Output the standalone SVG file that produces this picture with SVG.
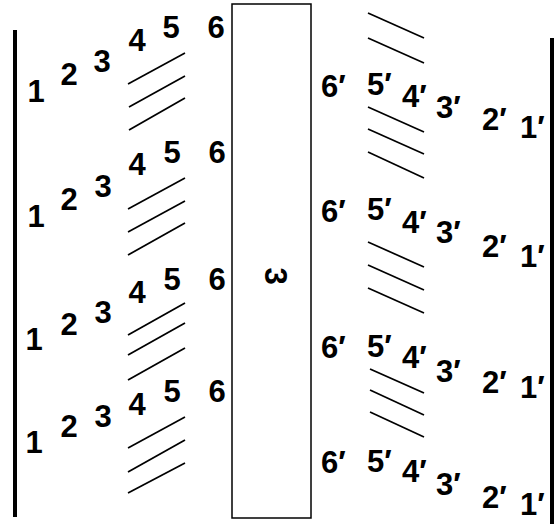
<svg xmlns="http://www.w3.org/2000/svg" width="554" height="524" viewBox="0 0 554 524">
<style>
text{font-family:"Liberation Sans",Arial,sans-serif;font-weight:bold;font-size:31px;fill:#000}
.c{text-anchor:middle}
.h{stroke:#000;stroke-width:1.7;fill:none}
.bar{fill:#000}
</style>
<rect width="554" height="524" fill="#fff"/>
<g id="walls">
<rect class="bar" x="13" y="30" width="4" height="487"/>
<rect class="bar" x="550" y="38" width="4" height="486"/>
</g>
<g id="block">
<rect x="232" y="4" width="79" height="514" fill="none" stroke="#000" stroke-width="1.5"/>
<text class="c" transform="translate(265,276) rotate(90)" font-size="31">3</text>
</g>
<g id="left-row1">
<text class="c" x="36" y="102">1</text><text class="c" x="69" y="85">2</text><text class="c" x="102" y="72">3</text>
<text class="c" x="137" y="51">4</text><text class="c" x="171" y="38">5</text><text class="c" x="216" y="38">6</text>
</g>
<g id="left-row2">
<text class="c" x="36" y="227">1</text><text class="c" x="69" y="210">2</text><text class="c" x="103" y="197">3</text>
<text class="c" x="137" y="175">4</text><text class="c" x="172" y="163">5</text><text class="c" x="217" y="163">6</text>
</g>
<g id="left-row3">
<text class="c" x="34" y="350">1</text><text class="c" x="69" y="335">2</text><text class="c" x="103" y="323">3</text>
<text class="c" x="137" y="303">4</text><text class="c" x="172" y="290">5</text><text class="c" x="217" y="290">6</text>
</g>
<g id="left-row4">
<text class="c" x="34" y="453">1</text><text class="c" x="69" y="437">2</text><text class="c" x="103" y="427">3</text>
<text class="c" x="137" y="415">4</text><text class="c" x="172" y="402">5</text><text class="c" x="217" y="402">6</text>
</g>
<g id="right-row1">
<text x="321" y="97">6′</text><text x="367" y="95">5′</text><text x="402" y="107">4′</text>
<text x="436" y="118">3′</text><text x="482" y="130">2′</text><text x="520" y="138">1′</text>
</g>
<g id="right-row2">
<text x="321" y="222">6′</text><text x="367" y="220">5′</text><text x="402" y="233">4′</text>
<text x="436" y="243">3′</text><text x="482" y="257">2′</text><text x="520" y="267">1′</text>
</g>
<g id="right-row3">
<text x="321" y="358">6′</text><text x="367" y="357">5′</text><text x="402" y="368">4′</text>
<text x="436" y="382">3′</text><text x="482" y="393">2′</text><text x="520" y="398">1′</text>
</g>
<g id="right-row4">
<text x="321" y="473">6′</text><text x="367" y="472">5′</text><text x="402" y="482">4′</text>
<text x="436" y="495">3′</text><text x="482" y="508">2′</text><text x="520" y="515">1′</text>
</g>
<g id="hatching" class="h">
<line x1="128" y1="84" x2="185" y2="53"/><line x1="129" y1="107" x2="185" y2="76"/><line x1="129" y1="130" x2="185" y2="98"/>
<line x1="128" y1="209" x2="185" y2="178"/><line x1="128" y1="232" x2="185" y2="201"/><line x1="128" y1="255" x2="185" y2="223"/>
<line x1="128" y1="335" x2="185" y2="303"/><line x1="128" y1="355" x2="185" y2="323"/><line x1="128" y1="380" x2="185" y2="348"/>
<line x1="128" y1="448" x2="185" y2="417"/><line x1="128" y1="472" x2="185" y2="440"/><line x1="128" y1="493" x2="185" y2="463"/>
<line x1="368" y1="13" x2="424" y2="38"/><line x1="368" y1="38" x2="424" y2="63"/>
<line x1="368" y1="107" x2="424" y2="132"/><line x1="368" y1="129" x2="424" y2="154"/><line x1="368" y1="152" x2="424" y2="178"/>
<line x1="368" y1="242" x2="424" y2="267"/><line x1="368" y1="265" x2="424" y2="290"/><line x1="368" y1="288" x2="424" y2="313"/>
<line x1="370" y1="369" x2="424" y2="393"/><line x1="370" y1="390" x2="424" y2="415"/><line x1="370" y1="412" x2="424" y2="437"/>
</g>
</svg>
